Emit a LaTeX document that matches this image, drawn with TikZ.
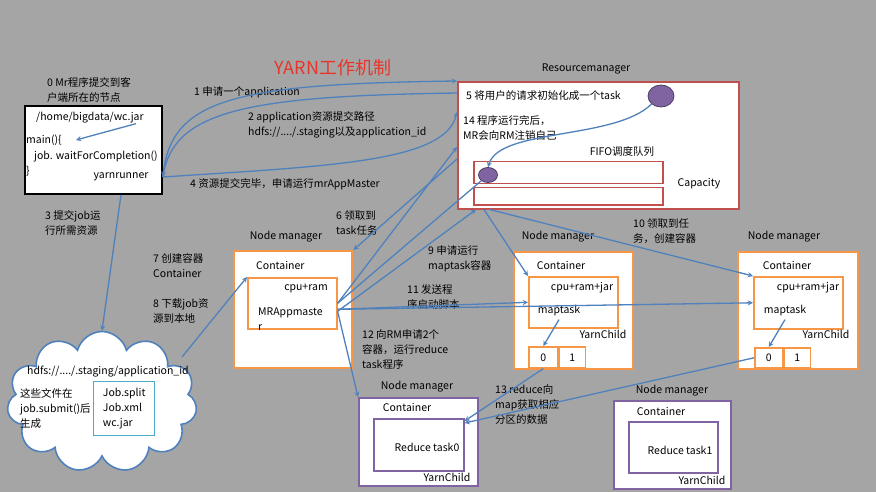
\documentclass[tikz,border=0pt]{standalone}
\usepackage{fontspec}
\setmainfont{Noto Sans CJK SC}
\usepackage{tikz}
\usetikzlibrary{shapes.geometric,shapes.symbols}
\definecolor{bggray}{HTML}{A5A5A5}
\definecolor{arrblue}{HTML}{4F81BD}
\definecolor{rmred}{HTML}{C0504D}
\definecolor{nmorange}{HTML}{F79646}
\definecolor{nmpurple}{HTML}{8064A2}
\definecolor{fileteal}{HTML}{4BACC6}
\definecolor{titlered}{HTML}{E8352B}
\tikzset{
  txt/.style={inner sep=0pt, align=left, font=\fontsize{10.5}{15}\selectfont},
  box/.style={draw, fill=white, anchor=north west, inner sep=0pt},
  clientbox/.style={box, draw=black, line width=1.8pt},
  rmbox/.style={box, draw=rmred, line width=1.6pt},
  nmbox/.style={box, draw=nmorange, line width=2.4pt},
  cellbox/.style={box, draw=nmorange, line width=1.6pt},
  rdbox/.style={box, draw=nmpurple, line width=1.6pt},
  jobdot/.style={ellipse, draw=nmpurple!60!black, fill=nmpurple, line width=0.8pt, inner sep=0pt},
  conn/.style={->, draw=arrblue, line width=1.3pt},
  link/.style={draw=arrblue, line width=1.3pt},
}
\begin{document}
\begin{tikzpicture}[>=stealth, x=1pt, y=-1pt]
\fill[bggray] (0,0) rectangle (876,492);
\useasboundingbox (0,0) rectangle (876,492);
\node (title) [txt, text=titlered, font=\fontsize{18}{20}\selectfont] at (333,68) {YARN工作机制};

\node (client) [clientbox, minimum width=137pt, minimum height=88pt] at (24,105) {};
\node (clientlbl) [txt, anchor=west] at (47,90) {0 Mr程序提交到客\\户端所在的节点};
\node (jar) [txt, anchor=west] at (36,118) {/home/bigdata/wc.jar};
\node (main) [txt, anchor=west] at (26,140) {main()\{};
\node (job) [txt, anchor=west] at (34,156) {job. waitForCompletion()};
\node (brace) [txt, anchor=west] at (26,171) {\}};
\node (yarn) [txt] at (121,177) {yarnrunner};

\node (rmlbl) [txt] at (586,69) {Resourcemanager};
\node (rm) [rmbox, minimum width=281pt, minimum height=127pt] at (457,81) {};
\node (step5) [txt, anchor=west] at (466,96) {5 将用户的请求初始化成一个task};
\node (task) [jobdot, minimum width=26pt, minimum height=22pt] at (661,96) {};
\node (step14) [txt, anchor=west] at (463,128) {14 程序运行完后，\\MR会向RM注销自己};
\node (fifo) [txt] at (622,152) {FIFO调度队列};
\node (q1) [box, draw=rmred, line width=1.5pt, minimum width=189pt, minimum height=22pt] at (473,161) {};
\node (q2) [box, draw=rmred, line width=1.5pt, minimum width=189pt, minimum height=17pt] at (473,187) {};
\node (cap) [txt] at (699,184) {Capacity};
\node (rmjob) [jobdot, minimum width=19pt, minimum height=15pt] at (488,175) {};

\node (s1) [txt, anchor=west] at (194,92) {1 申请一个application};
\node (s2) [txt, anchor=west] at (248,125) {2 application资源提交路径\\hdfs://..../.staging以及application\_id};
\node (s4) [txt, anchor=west] at (190,184) {4 资源提交完毕，申请运行mrAppMaster};
\node (s3) [txt, anchor=west] at (45,223) {3 提交job运\\行所需资源};

\node (cloud) [cloud, cloud puffs=11, cloud ignores aspect, draw=arrblue, fill=white, line width=1.6pt, minimum width=190pt, minimum height=141pt, inner sep=0pt] at (102,402) {};
\node (hdfs) [txt, anchor=west] at (27,372) {hdfs://..../.staging/application\_id};
\node (gen) [txt, anchor=west] at (20,409) {这些文件在\\job.submit()后\\生成};
\node (files) [box, txt, draw=fileteal, line width=1.4pt, minimum width=61pt, minimum height=54pt] at (93,381) {Job.split\\Job.xml\\wc.jar};
\coordinate (cloudtip) at (182,357);

\node (s6) [txt, anchor=west] at (336,223) {6 领取到\\task任务};
\node (s7) [txt, anchor=west] at (153,266) {7 创建容器\\Container};
\node (s8) [txt, anchor=west] at (153,311) {8 下载job资\\源到本地};
\node (s9) [txt, anchor=west] at (428,259) {9 申请运行\\maptask容器};
\node (s10) [txt, anchor=west] at (633,231) {10 领取到任\\务，创建容器};
\node (s11) [txt, anchor=west] at (407,297) {11 发送程\\序启动脚本};
\node (s12) [txt, anchor=west] at (362,350) {12 向RM申请2个\\容器，运行reduce\\task程序};
\node (s13) [txt, anchor=west] at (495,405) {13 reduce向\\map获取相应\\分区的数据};

\node (nm1lbl) [txt] at (286,237) {Node manager};
\node (nm1) [nmbox, minimum width=118pt, minimum height=117pt] at (233,250) {};
\node (c1) [txt, anchor=west] at (256,265) {Container};
\node (am1) [cellbox, minimum width=89pt, minimum height=51pt] at (247,277) {};
\node (cpu1) [txt] at (306,288) {cpu+ram};
\node (mr) [txt, anchor=west] at (258,319) {MRAppmaste\\r};

\node (nm2lbl) [txt] at (558,237) {Node manager};
\node (nm2) [nmbox, minimum width=119pt, minimum height=117pt] at (513,251) {};
\node (c2) [txt] at (561,265) {Container};
\node (mt2) [cellbox, minimum width=89pt, minimum height=51pt] at (528,276) {};
\node (cpu2) [txt] at (582,288) {cpu+ram+jar};
\node (map2) [txt] at (559,311) {maptask};
\node (yc2) [txt] at (603,334) {YarnChild};
\node (p20) [cellbox, txt, minimum width=29pt, minimum height=21pt] at (528,346) {0};
\node (p21) [cellbox, txt, minimum width=26pt, minimum height=21pt] at (p20.north east) {1};

\node (nm3lbl) [txt] at (784,237) {Node manager};
\node (nm3) [nmbox, minimum width=120pt, minimum height=117pt] at (737,251) {};
\node (c3) [txt] at (787,265) {Container};
\node (mt3) [cellbox, minimum width=89pt, minimum height=52pt] at (753,276) {};
\node (cpu3) [txt] at (808,288) {cpu+ram+jar};
\node (map3) [txt] at (785,311) {maptask};
\node (yc3) [txt] at (826,334) {YarnChild};
\node (p30) [cellbox, txt, minimum width=28pt, minimum height=20pt] at (754,347) {0};
\node (p31) [cellbox, txt, minimum width=26pt, minimum height=20pt] at (p30.north east) {1};

\node (nm4lbl) [txt] at (417,387) {Node manager};
\node (nm4) [rdbox, minimum width=119pt, minimum height=88pt] at (358,397) {};
\node (c4) [txt] at (407,407) {Container};
\node (rd0) [rdbox, minimum width=90pt, minimum height=52pt] at (373,418) {};
\node (rt0) [txt] at (427,447) {Reduce task0};
\node (yc4) [txt] at (447,477) {YarnChild};

\node (nm5lbl) [txt] at (672,391) {Node manager};
\node (nm5) [rdbox, minimum width=117pt, minimum height=88pt] at (613,400) {};
\node (c5) [txt] at (661,411) {Container};
\node (rd1) [rdbox, minimum width=89pt, minimum height=51pt] at (628,421) {};
\node (rt1) [txt] at (680,450) {Reduce task1};
\node (yc5) [txt] at (702,480) {YarnChild};

\draw[conn] ([xshift=-8pt]jar.south east) -- ([xshift=14pt]main.east);
\draw[conn] (yarn -| client.east) .. controls (170,100) and (230,84) .. (rm.north west);
\draw[conn] ([yshift=-12pt]rm.north west) .. controls (250,96) and (175,110) .. (yarn -| client.east);
\draw[conn] (yarn -| client.east) .. controls (330,166) and (445,162) .. ([yshift=-31pt]rm.north west);
\draw[conn] (task.south west) .. controls (615,140) and (500,128) .. (rmjob.north);
\draw[conn] (yarn |- client.south) -- (cloud.north);
\draw[conn] (cloudtip) -- (am1.north west);
\draw[conn] ([yshift=-78pt]rm.north west) -- (nm1.north east);
\draw[conn] (am1.east) -- ([yshift=-66pt]rm.north west);
\draw[link] (am1.east) -- (rmjob);
\draw[conn] ([yshift=-8pt]am1.east) -- ([xshift=19pt]rm.south west);
\draw[conn] ([xshift=27pt]rm.south west) -- (mt2.north west);
\draw[conn] ([xshift=33pt]rm.south west) -- (mt3.north west);
\draw[conn] ([yshift=-6pt]am1.east) -- (mt2.west);
\draw[conn] ([yshift=-6pt]am1.east) -- (mt3.west);
\draw[conn] ([yshift=-8pt]am1.east) -- (nm4.north west);
\draw[conn] ([yshift=-3pt]map2.south) -- (p20.north);
\draw[conn] ([yshift=-3pt]map3.south) -- (p30.north);
\draw[conn] (p20.south) -- ([yshift=-3pt]rd0.north east);
\draw[conn] (p30.west) -- ([yshift=-5pt]rd0.north east);
\end{tikzpicture}
\end{document}
